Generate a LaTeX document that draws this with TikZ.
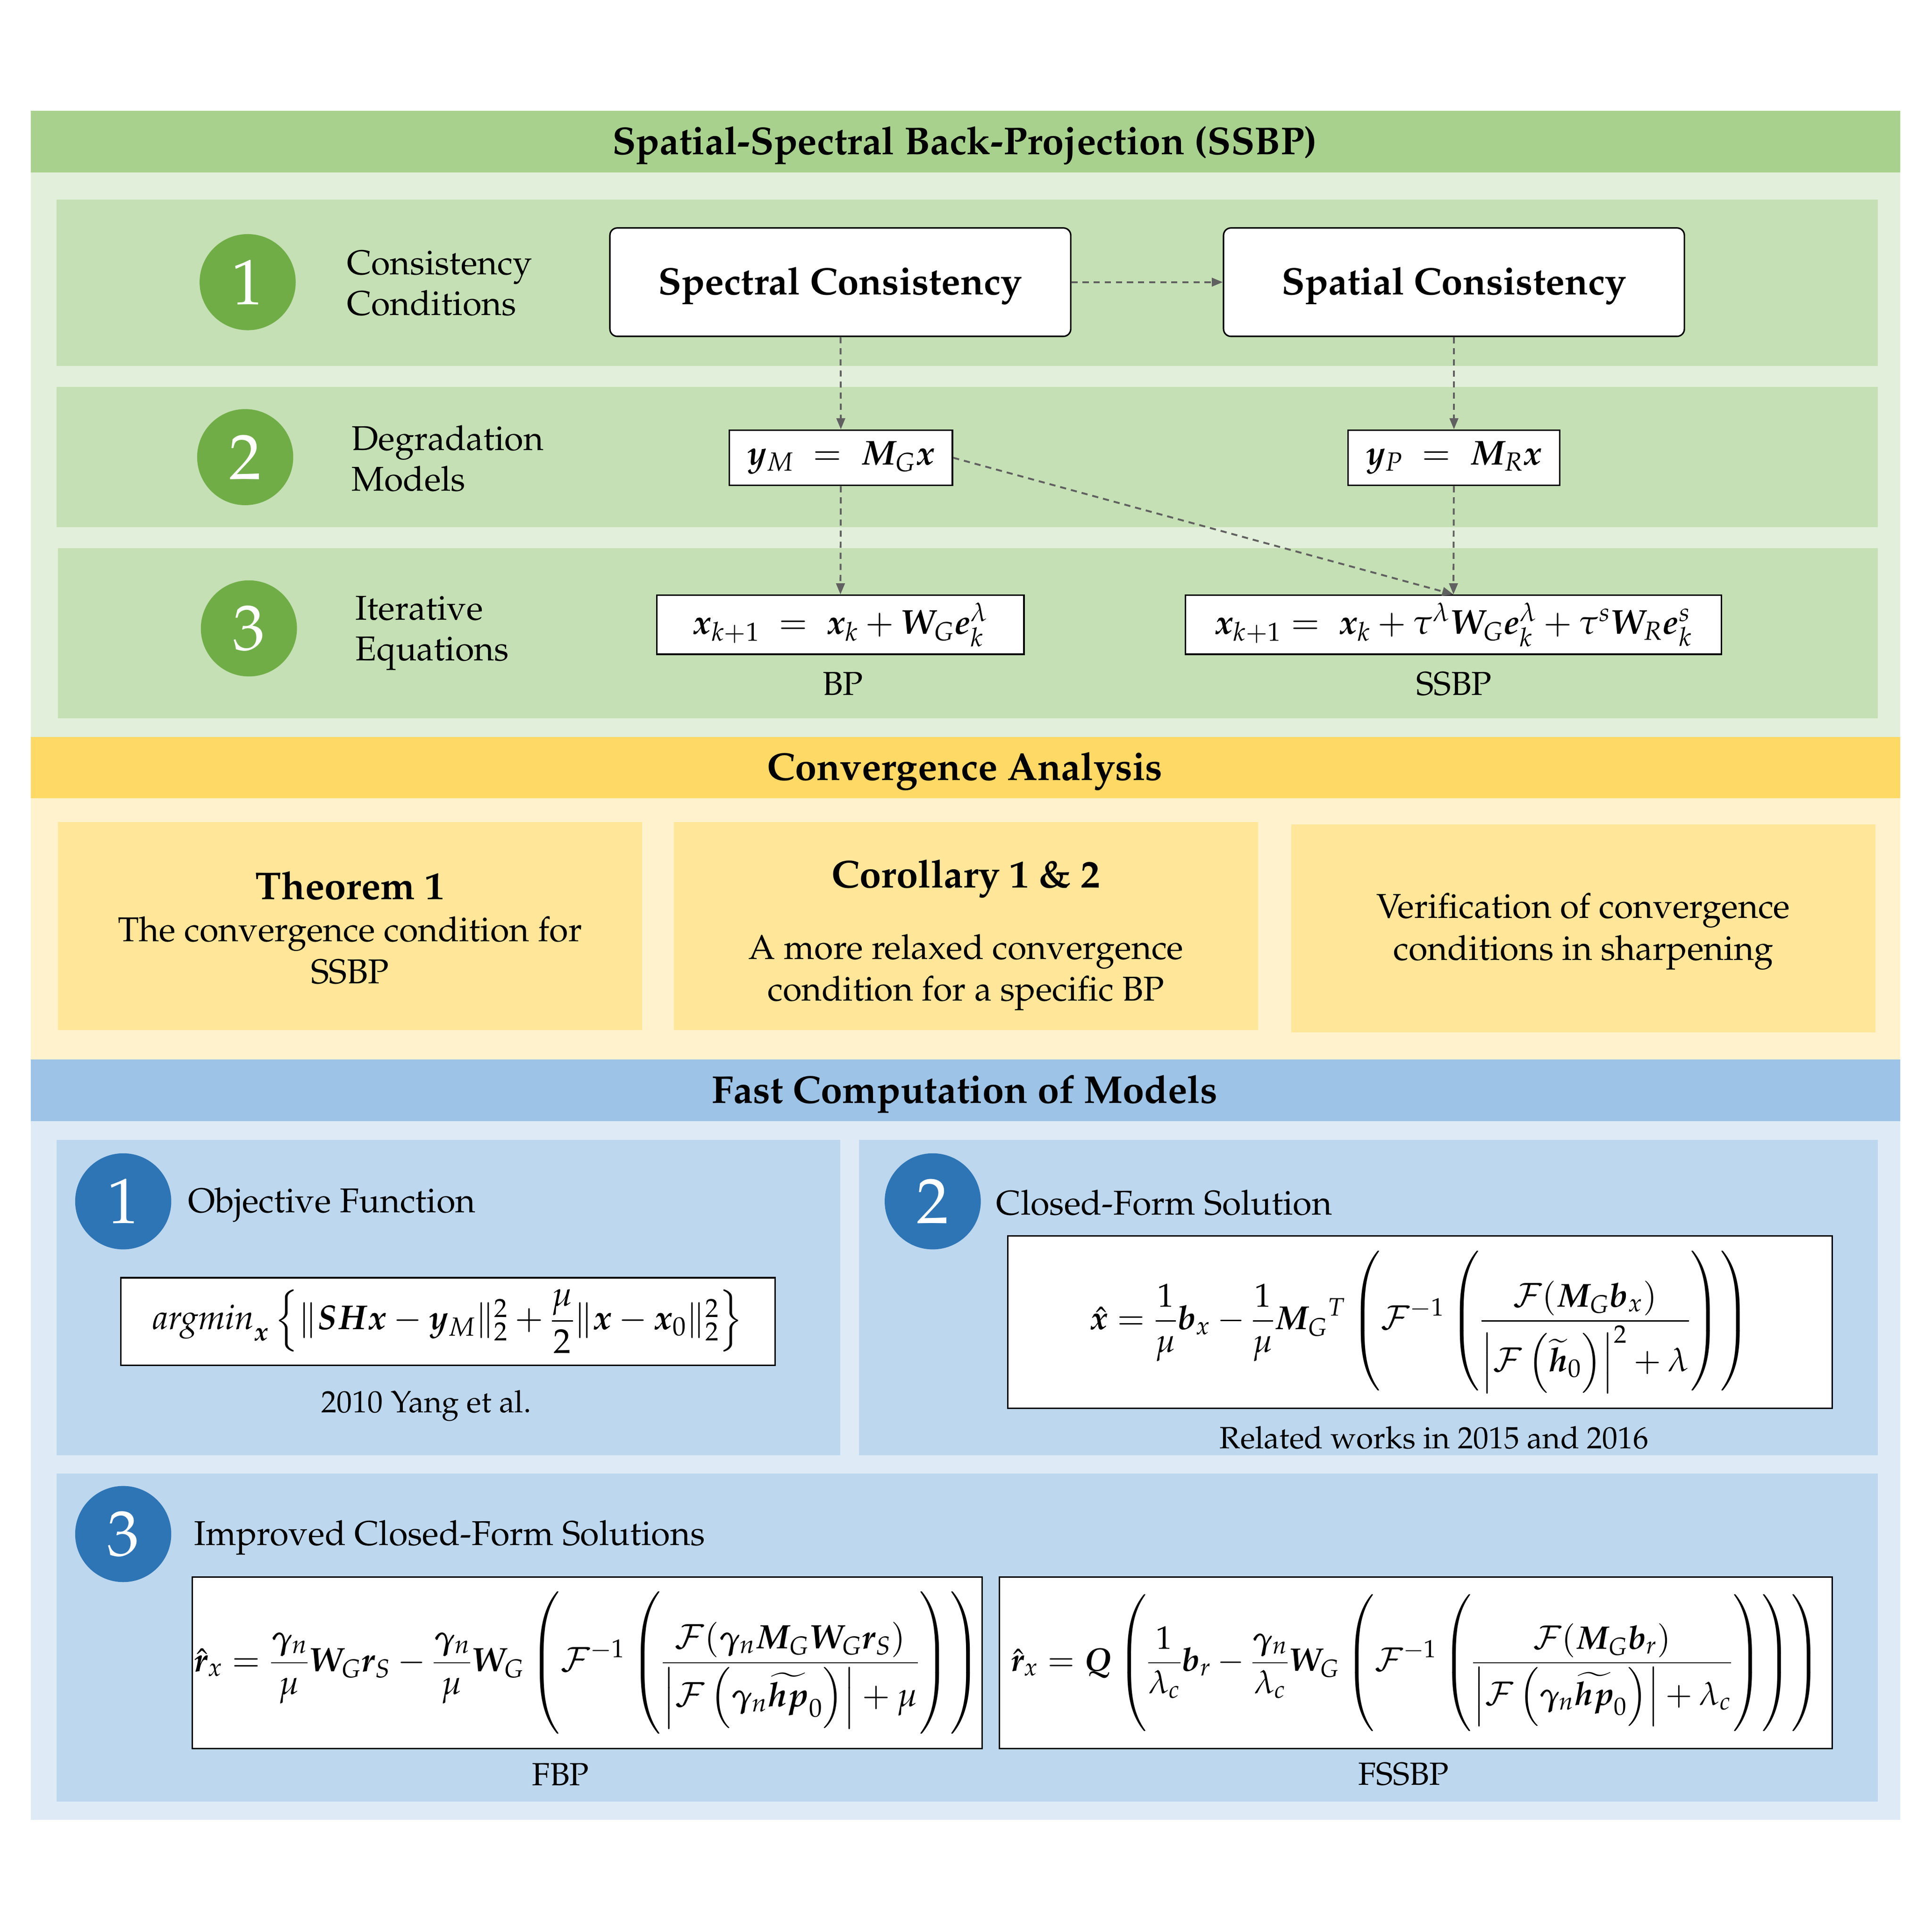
\documentclass[tikz,border=0pt]{standalone}
\usepackage[T1]{fontenc}
\usepackage{mathpazo}
\usepackage{amsmath}
\usepackage{bm}
\usetikzlibrary{arrows.meta}

\definecolor{ssbpbar}{HTML}{A9D18E}
\definecolor{ssbpbody}{HTML}{E2EFDA}
\definecolor{ssbprow}{HTML}{C5E0B4}
\definecolor{ssbpdot}{HTML}{70AD47}
\definecolor{convbar}{HTML}{FFD966}
\definecolor{convbody}{HTML}{FFF2CC}
\definecolor{convbox}{HTML}{FFE699}
\definecolor{fastbar}{HTML}{9DC3E6}
\definecolor{fastbody}{HTML}{DEEBF7}
\definecolor{fastrow}{HTML}{BDD7EE}
\definecolor{fastdot}{HTML}{2E75B6}
\definecolor{linkgray}{HTML}{606060}

\tikzset{
	bartitle/.style={font=\fontsize{31.5}{36}\selectfont\bfseries},
	numdot/.style={circle, minimum size=78pt, inner sep=0pt, text=white, font=\fontsize{52}{52}\selectfont},
	sidetext/.style={anchor=west, align=left, font=\fontsize{28}{33}\selectfont},
	plaintext/.style={align=center, font=\fontsize{28}{34}\selectfont},
	smalltext/.style={font=\fontsize{25}{28}\selectfont},
	consbox/.style={draw, fill=white, line width=1.2pt, rounded corners=6pt, minimum width=374pt, minimum height=88pt, text depth=2pt, font=\fontsize{31}{36}\selectfont\bfseries},
	eqbox/.style={draw, fill=white, line width=1.2pt, inner sep=0pt, font=\fontsize{28}{32}\selectfont},
	link/.style={draw=linkgray, line width=1.5pt, dash pattern=on 5pt off 4pt, -{Triangle[length=9pt, width=7pt]}}
}

\begin{document}
\begin{tikzpicture}[x=1pt, y=-1pt]
	\useasboundingbox[fill=white] (0,0) rectangle (1568,1568);

	\fill[ssbpbody] (25,90) rectangle (1542,598);
	\fill[ssbpbar] (25,90) rectangle (1542,140);
	\fill[ssbprow] (46,162) rectangle (1524,297);
	\fill[ssbprow] (46,314) rectangle (1524,428);
	\fill[ssbprow] (47,445) rectangle (1524,583);
	\node[bartitle] (ssbptitle) at (783,118) {Spatial-Spectral Back-Projection (SSBP)};

	\node[numdot, fill=ssbpdot] (dotone) at (201,229) {1};
	\node[numdot, fill=ssbpdot] (dottwo) at (199,371) {2};
	\node[numdot, fill=ssbpdot] (dotthree) at (202,510) {3};
	\node[sidetext] (condlabel) at (278,230) {Consistency\\Conditions};
	\node[sidetext] (modellabel) at (282,372) {Degradation\\Models};
	\node[sidetext] (iterlabel) at (285,514) {Iterative\\Equations};

	\node[consbox] (spectral) at (682,229) {Spectral Consistency};
	\node[consbox] (spatial) at (1180,229) {Spatial Consistency};
	\node[eqbox, minimum width=181pt, minimum height=45pt] (ym) at (682.5,371.5) {$\bm{y}_M \;=\; \bm{M}_G\bm{x}$};
	\node[eqbox, minimum width=172pt, minimum height=45pt] (yp) at (1180,371.5) {$\bm{y}_P \;=\; \bm{M}_R\bm{x}$};
	\node[eqbox, minimum width=298pt, minimum height=48pt] (bpeq) at (682,507) {$\bm{x}_{k+1} \;=\; \bm{x}_k+\bm{W}_G\bm{e}_k^{\lambda}$};
	\node[eqbox, minimum width=435pt, minimum height=48pt] (ssbpeq) at (1179.5,507) {$\bm{x}_{k+1} = \;\bm{x}_k+\tau^{\lambda}\bm{W}_G\bm{e}_k^{\lambda}+\tau^{s}\bm{W}_R\bm{e}_k^{s}$};
	\node[font=\fontsize{27}{30}\selectfont] (bplabel) at (684,555) {BP};
	\node[font=\fontsize{27}{30}\selectfont] (ssbplabel) at (1180,555) {SSBP};

	\draw[link] (spectral) -- (spatial);
	\draw[link] (spectral) -- (ym);
	\draw[link] (ym) -- (bpeq);
	\draw[link] (spatial) -- (yp);
	\draw[link] (yp) -- (ssbpeq);
	\draw[link] (ym.east) -- (ssbpeq.north);

	\fill[convbody] (25,598) rectangle (1542,860);
	\fill[convbar] (25,598) rectangle (1542,648);
	\fill[convbox] (47,667) rectangle (521,836);
	\fill[convbox] (547,667) rectangle (1021,836);
	\fill[convbox] (1048,669) rectangle (1522,838);
	\node[bartitle] (convtitle) at (783,626) {Convergence Analysis};
	\node[plaintext] (theorem) at (284,753) {{\fontsize{31.5}{34}\selectfont\bfseries Theorem 1}\\The convergence condition for\\SSBP};
	\node[plaintext] (corollary) at (784,759) {{\fontsize{31.5}{34}\selectfont\bfseries Corollary 1 \& 2}\\[24pt]A more relaxed convergence\\condition for a specific BP};
	\node[plaintext] (verify) at (1285,756) {Verification of convergence\\conditions in sharpening};

	\fill[fastbody] (25,860) rectangle (1542,1477);
	\fill[fastbar] (25,860) rectangle (1542,910);
	\fill[fastrow] (46,925) rectangle (682,1181);
	\fill[fastrow] (697,925) rectangle (1524,1181);
	\fill[fastrow] (46,1196) rectangle (1524,1462);
	\node[bartitle] (fasttitle) at (783,888) {Fast Computation of Models};

	\node[numdot, fill=fastdot] (fastone) at (100,975) {1};
	\node[numdot, fill=fastdot] (fasttwo) at (757,975) {2};
	\node[numdot, fill=fastdot] (fastthree) at (100,1245) {3};
	\node[sidetext] (objlabel) at (149,978) {Objective Function};
	\node[sidetext] (closedlabel) at (805,976) {Closed-Form Solution};
	\node[sidetext] (improvedlabel) at (154,1248) {Improved Closed-Form Solutions};

	\node[eqbox, minimum width=531pt, minimum height=71pt] (objeq) at (363.5,1072.5) {$\mathit{argmin}_{\bm{x}}\left\{\|\bm{SHx}-\bm{y}_M\|_2^2+\dfrac{\mu}{2}\|\bm{x}-\bm{x}_0\|_2^2\right\}$};
	\node[eqbox, minimum width=669pt, minimum height=140pt, font=\fontsize{27}{32}\selectfont] (closedeq) at (1152.5,1073) {$\displaystyle\hat{\bm{x}}=\frac{1}{\mu}\bm{b}_x-\frac{1}{\mu}\bm{M}_G{}^{T}\left(\mathcal{F}^{-1}\left(\frac{\mathcal{F}(\bm{M}_G\bm{b}_x)}{\left|\mathcal{F}\left(\widetilde{\bm{h}}_0\right)\right|^2+\lambda}\right)\right)$};
	\node[smalltext] (objcite) at (346,1141) {2010 Yang et al.};
	\node[smalltext] (closedcite) at (1164,1167) {Related works in 2015 and 2016};

	\node[eqbox, minimum width=641pt, minimum height=139pt, font=\fontsize{27.5}{32}\selectfont] (fbpeq) at (476.5,1349.5) {$\displaystyle\hat{\bm{r}}_x=\frac{\bm{\gamma}_n}{\mu}\bm{W}_G\bm{r}_S-\frac{\bm{\gamma}_n}{\mu}\bm{W}_G\left(\mathcal{F}^{-1}\left(\frac{\mathcal{F}(\bm{\gamma}_n\bm{M}_G\bm{W}_G\bm{r}_S)}{\left|\mathcal{F}\left(\bm{\gamma}_n\widetilde{\bm{hp}}_0\right)\right|+\mu}\right)\right)$};
	\node[eqbox, minimum width=676pt, minimum height=139pt, font=\fontsize{26.5}{32}\selectfont] (fssbpeq) at (1149,1349.5) {$\displaystyle\hat{\bm{r}}_x=\bm{Q}\left(\frac{1}{\lambda_c}\bm{b}_r-\frac{\bm{\gamma}_n}{\lambda_c}\bm{W}_G\left(\mathcal{F}^{-1}\left(\frac{\mathcal{F}(\bm{M}_G\bm{b}_r)}{\left|\mathcal{F}\left(\bm{\gamma}_n\widetilde{\bm{hp}}_0\right)\right|+\lambda_c}\right)\right)\right)$};
	\node[font=\fontsize{26}{30}\selectfont] (fbplabel) at (455,1440) {FBP};
	\node[font=\fontsize{26}{30}\selectfont] (fssbplabel) at (1139,1440) {FSSBP};
\end{tikzpicture}
\end{document}
